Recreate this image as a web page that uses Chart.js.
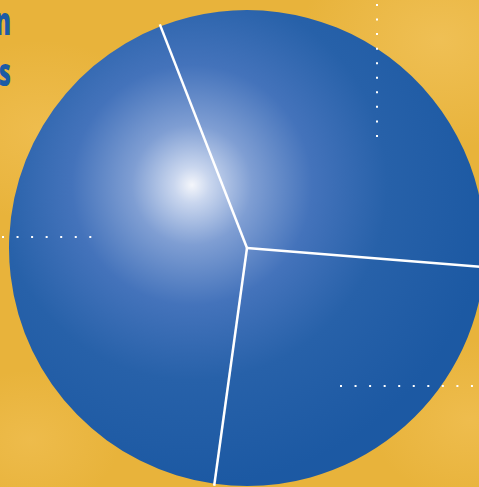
<!DOCTYPE html>
<html>
<head>
<meta charset="utf-8">
<script src="https://cdn.jsdelivr.net/npm/chart.js@4"></script>
<style>
  html, body { margin: 0; padding: 0; }
  body {
    width: 479px; height: 487px; overflow: hidden; position: relative;
    background:
      radial-gradient(ellipse 120px 90px at 40px 130px, rgba(246,200,100,0.45), rgba(246,200,100,0) 100%),
      radial-gradient(ellipse 140px 110px at 440px 40px, rgba(246,204,110,0.5), rgba(246,204,110,0) 100%),
      radial-gradient(ellipse 100px 80px at 470px 420px, rgba(246,200,100,0.45), rgba(246,200,100,0) 100%),
      radial-gradient(ellipse 90px 70px at 30px 440px, rgba(246,200,100,0.4), rgba(246,200,100,0) 100%),
      #e8b33b;
  }
  #wrap { position: absolute; left: -3px; top: -2px; width: 500px; height: 500px; }
  .cut {
    position: absolute; right: 468px; white-space: nowrap;
    font-family: "Open Sans", "DejaVu Sans", sans-serif; font-weight: 800;
    font-size: 38px; color: #1b5ba6; transform: scaleX(0.62); transform-origin: right center;
    line-height: 1;
  }
</style>
</head>
<body>
<div class="cut" style="top:1px">Distribution</div>
<div class="cut" style="top:52px">Shares</div>
<div id="wrap"><canvas id="pie"></canvas></div>
<script>
// 데이터
const labels = ['Segment A', 'Segment B', 'Segment C'];
const values = [32.2, 25.9, 41.9];
const startRotation = -21.3;

// 캔버스 오프셋 (페이지 좌표 -> 캔버스 좌표)
const OFF_X = 3, OFF_Y = 2;

// 하이라이트 그라디언트
function blueFill(context) {
    const chart = context.chart;
    const area = chart.chartArea;
    if (!area) return '#1f5ba4';
    const cx = (area.left + area.right) / 2 - 55;
    const cy = (area.top + area.bottom) / 2 - 63;
    const g = chart.ctx.createRadialGradient(cx, cy, 0, cx, cy, 300);
    g.addColorStop(0, '#f4f6fb');
    g.addColorStop(0.06, '#c9d6ee');
    g.addColorStop(0.2, '#7f9ed3');
    g.addColorStop(0.4, '#4473bb');
    g.addColorStop(0.65, '#2761a9');
    g.addColorStop(1, '#1c59a3');
    return g;
}

// 구분선 + 점선
const decorPlugin = {
    id: 'decor',
    afterDatasetsDraw(chart) {
        const c = chart.ctx;
        const meta = chart.getDatasetMeta(0);
        c.save();
        c.strokeStyle = '#ffffff';
        c.lineWidth = 2.5;
        meta.data.forEach(arc => {
            const r = arc.outerRadius + 2;
            c.beginPath();
            c.moveTo(arc.x, arc.y);
            c.lineTo(arc.x + r * Math.cos(arc.startAngle), arc.y + r * Math.sin(arc.startAngle));
            c.stroke();
        });
        c.lineWidth = 2;
        c.setLineDash([2, 12.55]);
        const dotted = [
            [377, 4, 377, 140],
            [2, 237, 95, 237],
            [340, 386, 479, 386]
        ];
        dotted.forEach(d => {
            c.beginPath();
            c.moveTo(d[0] + OFF_X, d[1] + OFF_Y);
            c.lineTo(d[2] + OFF_X, d[3] + OFF_Y);
            c.stroke();
        });
        c.restore();
    }
};

new Chart(document.getElementById('pie'), {
    type: 'pie',
    data: {
        labels: labels,
        datasets: [{
            data: values,
            backgroundColor: blueFill,
            borderWidth: 0
        }]
    },
    options: {
        responsive: true,
        maintainAspectRatio: false,
        animation: false,
        rotation: startRotation,
        layout: { padding: 12 },
        plugins: {
            legend: { display: false },
            tooltip: { enabled: false }
        }
    },
    plugins: [decorPlugin]
});
</script>
</body>
</html>
